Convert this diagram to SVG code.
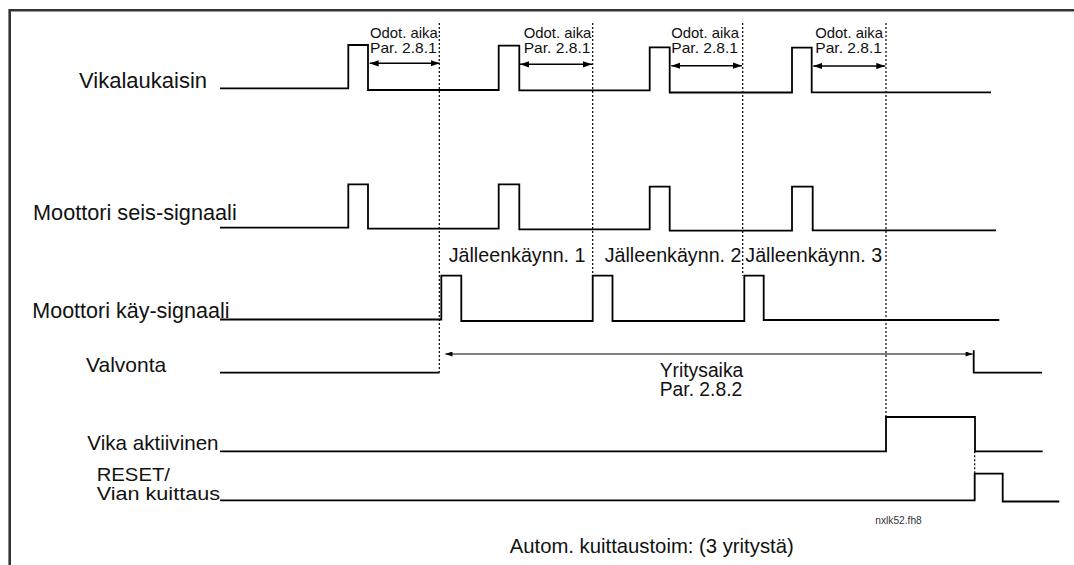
<svg xmlns="http://www.w3.org/2000/svg" width="1074" height="565" viewBox="0 0 1074 565">
<defs>
<marker id="ah" viewBox="0 0 10 7" refX="10" refY="3.5" markerWidth="9" markerHeight="6.5" markerUnits="userSpaceOnUse" orient="auto-start-reverse">
<path d="M0,0 L10,3.5 L0,7 z" fill="#000"/>
</marker>
<marker id="ahs" viewBox="0 0 10 7" refX="10" refY="3.5" markerWidth="9" markerHeight="5" markerUnits="userSpaceOnUse" orient="auto-start-reverse">
<path d="M0,0 L10,3.5 L0,7 z" fill="#000"/>
</marker>
<style>
text{font-family:"Liberation Sans",Arial,Helvetica,sans-serif;fill:#111}
.lbl{font-size:21.5px}
.sm{font-size:14.4px}
.jk{font-size:19.7px}
.sig{fill:none;stroke:#000;stroke-width:1.8}
.dot{fill:none;stroke:#000;stroke-width:1.2;stroke-dasharray:2 2}
.dim{fill:none;stroke:#000;stroke-width:1.6;marker-start:url(#ah);marker-end:url(#ah)}
.dim2{fill:none;stroke:#000;stroke-width:1;marker-start:url(#ahs);marker-end:url(#ahs)}
</style>
</defs>
<rect width="1074" height="565" fill="#fff"/>
<path d="M9.7,570 V10.3 H1080" fill="none" stroke="#333" stroke-width="2.6"/>

<g id="vikalaukaisin">
<text class="lbl" x="79" y="87.5" style="font-size:22px">Vikalaukaisin</text>
<path class="sig" d="M220,88.3 H348.3 V45 H368 V90 H498.7 V45.7 H519.3 V90.3 H649.7 V47.3 H669.7 V92.5 H792 V47.7 H811.7 V92.3 H991"/>
</g>

<g id="moottori-seis">
<text class="lbl" x="33" y="220" style="font-size:21.7px">Moottori seis-signaali</text>
<path class="sig" d="M220,227.7 H348.3 V184.3 H368 V228.7 H498.7 V184.3 H519.3 V229.3 H649.7 V186.7 H669.7 V230.7 H792 V186.7 H812.7 V230.3 H996"/>
</g>

<g id="moottori-kay">
<text class="lbl" x="32.3" y="318">Moottori käy-signaali</text>
<path class="sig" d="M220,319.5 H441.3 V275.7 H461.3 V321 H592.7 V275.7 H612.5 V321 H744.3 V275.7 H763.7 V320 H999.3"/>
</g>

<g id="valvonta">
<text class="lbl" x="86" y="372" style="font-size:21px">Valvonta</text>
<path class="sig" d="M220,372.7 H439.3"/>
<path class="sig" d="M973.7,350.3 V372.7 H1042"/>
</g>

<g id="vika-aktiivinen">
<text class="lbl" x="87.3" y="450" style="font-size:20.6px">Vika aktiivinen</text>
<path class="sig" d="M220,451.3 H886 V417 H975 V451.3 H1042.7"/>
</g>

<g id="reset">
<text class="lbl" x="96.7" y="480.8" style="font-size:19.2px" textLength="73.3" lengthAdjust="spacingAndGlyphs">RESET/</text>
<text class="lbl" x="96.7" y="500.2" style="font-size:19.2px" textLength="123.3" lengthAdjust="spacingAndGlyphs">Vian kuittaus</text>
<path class="sig" d="M220,500.3 H974.7 V473.7 H1002.7 V501.5 H1059.3"/>
</g>

<g id="odot-1">
<text class="sm" x="370" y="38.2" textLength="67.7" lengthAdjust="spacingAndGlyphs">Odot. aika</text>
<text class="sm" x="370" y="52.8" textLength="66.7" lengthAdjust="spacingAndGlyphs">Par. 2.8.1</text>
</g>
<g id="odot-2">
<text class="sm" x="523.7" y="38.2" textLength="67.7" lengthAdjust="spacingAndGlyphs">Odot. aika</text>
<text class="sm" x="523.7" y="52.8" textLength="66.7" lengthAdjust="spacingAndGlyphs">Par. 2.8.1</text>
</g>
<g id="odot-3">
<text class="sm" x="671.3" y="38.2" textLength="67.7" lengthAdjust="spacingAndGlyphs">Odot. aika</text>
<text class="sm" x="671.3" y="52.8" textLength="66.7" lengthAdjust="spacingAndGlyphs">Par. 2.8.1</text>
</g>
<g id="odot-4">
<text class="sm" x="815.3" y="38.2" textLength="67.7" lengthAdjust="spacingAndGlyphs">Odot. aika</text>
<text class="sm" x="815.3" y="52.8" textLength="66.7" lengthAdjust="spacingAndGlyphs">Par. 2.8.1</text>
</g>

<g id="restart-labels">
<text class="jk" x="448.7" y="261.7">Jälleenkäynn. 1</text>
<text class="jk" x="604.7" y="261.7">Jälleenkäynn. 2</text>
<text class="jk" x="745.3" y="261.7">Jälleenkäynn. 3</text>
</g>

<g id="yritysaika">
<text x="659.7" y="376.5" style="font-size:19.3px">Yritysaika</text>
<text x="659.7" y="396" style="font-size:19.3px">Par. 2.8.2</text>
</g>

<g id="footer">
<text x="875.3" y="523.7" style="font-size:10.2px;fill:#333">nxlk52.fh8</text>
<text x="509.7" y="552.5" style="font-size:20.3px">Autom. kuittaustoim: (3 yritystä)</text>
</g>

<g id="connectors">
<path class="dot" d="M439.3,23 V372.7"/>
<path class="dot" d="M592.7,23 V275.7"/>
<path class="dot" d="M742.7,23 V275.7"/>
<path class="dot" d="M886,23 V417"/>
<path class="dot" d="M974.7,451.3 V473.7"/>
<path class="dim" d="M369.7,63.3 H439.7"/>
<path class="dim" d="M520,64.3 H592"/>
<path class="dim" d="M671.3,65.7 H742"/>
<path class="dim" d="M813.3,66 H885.3"/>
<path class="dim2" d="M445.3,354 H972.7"/>
</g>
</svg>
